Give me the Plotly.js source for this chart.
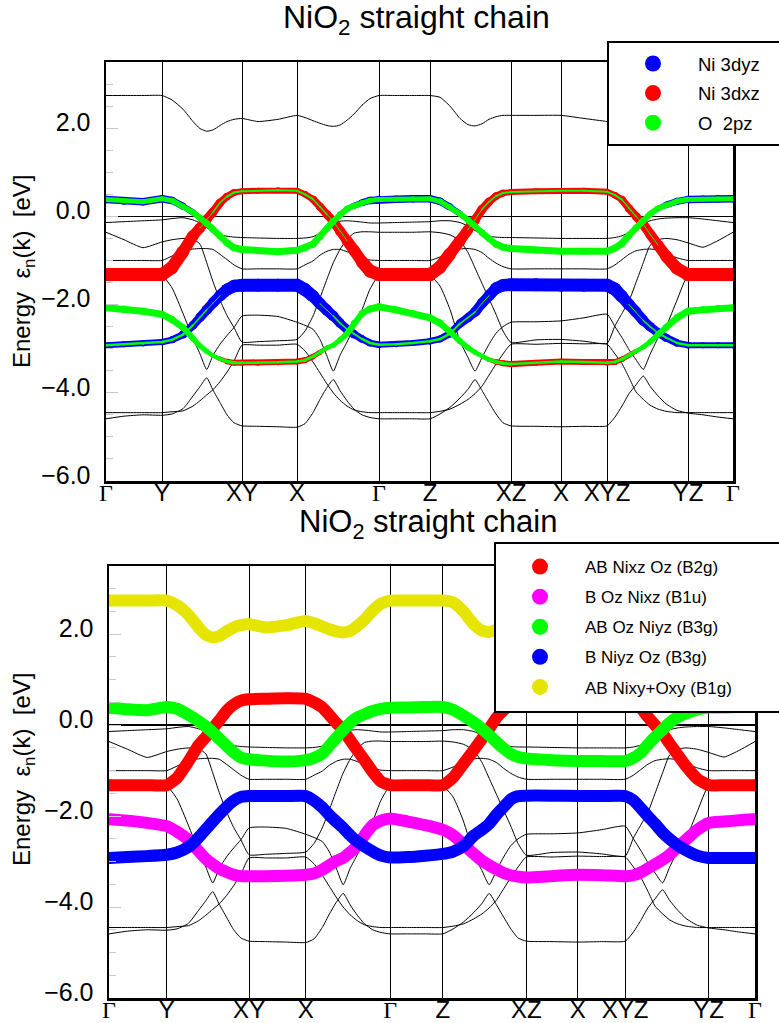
<!DOCTYPE html>
<html><head><meta charset="utf-8">
<script src="https://cdn.plot.ly/plotly-3.0.1.min.js"></script>
<style>html,body{margin:0;padding:0;background:#fff}#chart{width:779px;height:1023px}</style>
</head><body><div id="chart"></div>
<script>
// k-path distance of each sampled point (arbitrary units)
const kPath = [0, 0.18, 0.37, 0.56,
  0.66, 0.77, 0.87, 0.94, 1.007, 1.07, 1.14, 1.21, 1.28, 1.36,
  1.52, 1.72, 1.91,
  1.99, 2.07, 2.14, 2.21, 2.273, 2.34, 2.41, 2.48, 2.56, 2.64, 2.73,
  2.90, 3.07, 3.24,
  3.34, 3.44, 3.54, 3.62, 3.69, 3.76, 3.83, 3.90, 3.97, 4.05,
  4.30, 4.55,
  4.78, 5.01,
  5.09, 5.16, 5.23, 5.30, 5.373, 5.44, 5.52, 5.60, 5.71, 5.82,
  5.97, 6.12, 6.27];
const kTicks = [0, 0.56, 1.36, 1.91, 2.73, 3.24, 4.05, 4.55, 5.01, 5.82, 6.27];
const kLabels = ['Γ', 'Y', 'XY', 'X', 'Γ', 'Z', 'XZ', 'X', 'XYZ', 'YZ', 'Γ'];
const yTicks = [-6, -4, -2, 0, 2];

// band energies (eV)
const bandA = [2.74, 2.74, 2.74, 2.74,
  2.64, 2.43, 2.15, 1.99, 1.93, 1.96, 2.06, 2.15, 2.20, 2.22,
  2.15, 2.20, 2.29,
  2.24, 2.17, 2.11, 2.06, 2.04, 2.07, 2.18, 2.32, 2.52, 2.67, 2.74,
  2.74, 2.74, 2.74,
  2.70, 2.50, 2.22, 2.08, 2.05, 2.10, 2.20, 2.26, 2.29, 2.29,
  2.29, 2.29,
  2.22, 2.15,
  2.12, 2.08, 2.03, 1.98, 1.95, 2.00, 2.15, 2.40, 2.65, 2.74,
  2.74, 2.74, 2.74];
const bandP = [0.385, 0.35, 0.33, 0.40,
  0.36, 0.23, 0.09, -0.03, -0.16, -0.30, -0.45, -0.60, -0.71, -0.75,
  -0.78, -0.80, -0.77,
  -0.72, -0.63, -0.45, -0.27, -0.11, 0.05, 0.17, 0.24, 0.31, 0.36, 0.385,
  0.39, 0.40, 0.40,
  0.34, 0.21, 0.06, -0.08, -0.22, -0.37, -0.51, -0.63, -0.70, -0.73,
  -0.77, -0.79,
  -0.79, -0.79,
  -0.72, -0.61, -0.43, -0.26, -0.10, 0.05, 0.18, 0.26, 0.34, 0.385,
  0.39, 0.40, 0.40];
const bandQ = [-1.32, -1.32, -1.32, -1.32,
  -1.16, -0.80, -0.44, -0.26, -0.07, 0.10, 0.31, 0.45, 0.54, 0.57,
  0.58, 0.59, 0.58,
  0.50, 0.39, 0.22, 0.04, -0.11, -0.33, -0.55, -0.77, -1.03, -1.24, -1.32,
  -1.32, -1.32, -1.32,
  -1.15, -0.85, -0.55, -0.30, -0.08, 0.16, 0.33, 0.46, 0.53, 0.55,
  0.57, 0.58,
  0.58, 0.56,
  0.48, 0.38, 0.18, 0.00, -0.18, -0.40, -0.65, -0.90, -1.18, -1.32,
  -1.32, -1.32, -1.32];
const bandR = [-2.07, -2.10, -2.15, -2.22,
  -2.34, -2.52, -2.77, -2.94, -3.06, -3.16, -3.23, -3.29, -3.32, -3.32,
  -3.32, -3.31, -3.29,
  -3.26, -3.18, -3.08, -2.98, -2.92, -2.80, -2.66, -2.42, -2.20, -2.10, -2.05,
  -2.12, -2.20, -2.30,
  -2.42, -2.62, -2.83, -2.98, -3.08, -3.17, -3.25, -3.30, -3.33, -3.35,
  -3.32, -3.29,
  -3.30, -3.32,
  -3.30, -3.24, -3.15, -3.06, -2.96, -2.85, -2.68, -2.52, -2.30, -2.15,
  -2.12, -2.09, -2.07];
const bandS = [-2.92, -2.90, -2.88, -2.85,
  -2.80, -2.68, -2.47, -2.29, -2.12, -1.96, -1.80, -1.66, -1.58, -1.56,
  -1.56, -1.56, -1.56,
  -1.66, -1.81, -1.98, -2.13, -2.26, -2.42, -2.56, -2.67, -2.78, -2.87, -2.91,
  -2.90, -2.87, -2.83,
  -2.78, -2.66, -2.43, -2.30, -2.17, -1.97, -1.80, -1.63, -1.56, -1.55,
  -1.55, -1.56,
  -1.56, -1.56,
  -1.65, -1.82, -2.00, -2.17, -2.36, -2.50, -2.64, -2.75, -2.87, -2.92,
  -2.92, -2.92, -2.92];
const bandT1 = [-0.14, -0.12, -0.10, -0.08,
  -0.05, -0.03, -0.08, -0.15, -0.25, -0.37, -0.42, -0.45, -0.47, -0.48,
  -0.49, -0.50, -0.50,
  -0.49, -0.46, -0.38, -0.25, -0.14, -0.11, -0.10, -0.11, -0.13, -0.15, -0.15,
  -0.14, -0.13, -0.12,
  -0.10, -0.10, -0.14, -0.22, -0.32, -0.41, -0.45, -0.47, -0.48, -0.48,
  -0.49, -0.50,
  -0.50, -0.50,
  -0.48, -0.44, -0.37, -0.28, -0.18, -0.10, -0.06, -0.04, -0.03, -0.03,
  -0.06, -0.10, -0.14];
const bandT2 = [-0.36, -0.53, -0.71, -0.58,
  -0.53, -0.50, -0.52, -0.63, -1.05, -1.48, -1.90, -2.25, -2.52, -2.85,
  -2.84, -2.82, -2.79,
  -2.60, -2.26, -1.85, -1.42, -1.05, -0.75, -0.52, -0.38, -0.35, -0.35, -0.36,
  -0.36, -0.36, -0.35,
  -0.37, -0.42, -0.55, -0.82, -1.17, -1.52, -1.87, -2.22, -2.60, -2.86,
  -2.80, -2.79,
  -2.83, -2.88,
  -2.48, -2.20, -1.92, -1.50, -1.05, -0.66, -0.53, -0.50, -0.53, -0.60,
  -0.70, -0.55, -0.36];
const bandT3 = [-1.00, -1.00, -1.00, -1.00,
  -0.90, -0.78, -0.74, -0.73, -0.73, -0.75, -0.86, -0.98, -1.10, -1.19,
  -1.19, -1.19, -1.19,
  -1.10, -1.01, -0.88, -0.79, -0.75, -0.75, -0.80, -0.87, -0.95, -0.99, -1.00,
  -1.00, -1.00, -1.00,
  -0.92, -0.80, -0.74, -0.73, -0.75, -0.82, -0.95, -1.06, -1.14, -1.19,
  -1.19, -1.19,
  -1.19, -1.19,
  -1.10, -0.98, -0.86, -0.78, -0.75, -0.74, -0.76, -0.84, -0.94, -1.00,
  -1.00, -1.00, -1.00];
const bandT4 = [-4.45, -4.45, -4.45, -4.45,
  -4.43, -4.41, -4.30, -4.18, -4.05, -3.93, -3.75, -3.53, -3.28, -2.92,
  -2.92, -2.92, -2.90,
  -3.05, -3.30, -3.55, -3.80, -4.00, -4.17, -4.30, -4.39, -4.43, -4.45, -4.45,
  -4.45, -4.45, -4.45,
  -4.42, -4.37, -4.26, -4.15, -4.02, -3.85, -3.60, -3.35, -3.12, -2.90,
  -2.90, -2.88,
  -2.89, -2.90,
  -3.12, -3.34, -3.65, -3.98, -4.15, -4.28, -4.37, -4.42, -4.45, -4.45,
  -4.45, -4.45, -4.45];
const bandT5 = [-4.59, -4.53, -4.50, -4.51,
  -4.48, -4.36, -4.07, -3.86, -3.66, -3.94, -4.22, -4.50, -4.68, -4.75,
  -4.76, -4.77, -4.78,
  -4.70, -4.45, -4.15, -3.88, -3.70, -3.95, -4.18, -4.37, -4.50, -4.56, -4.59,
  -4.59, -4.59, -4.59,
  -4.48, -4.33, -4.12, -3.92, -3.70, -3.95, -4.22, -4.48, -4.68, -4.75,
  -4.76, -4.77,
  -4.76, -4.75,
  -4.55, -4.30, -4.02, -3.82, -3.62, -3.85, -4.07, -4.25, -4.40, -4.46,
  -4.50, -4.55, -4.59];
const bandT6 = [-1.34, -1.34, -1.34, -1.34,
  -1.62, -2.20, -2.77, -3.12, -3.47, -3.15, -2.90, -2.70, -2.52, -2.26,
  -2.24, -2.27, -2.40,
  -2.47, -2.56, -2.79, -3.17, -3.51, -3.15, -2.85, -2.52, -2.12, -1.65, -1.34,
  -1.34, -1.34, -1.34,
  -1.58, -2.11, -2.83, -3.20, -3.51, -3.20, -2.90, -2.65, -2.50, -2.40,
  -2.39, -2.37,
  -2.30, -2.22,
  -2.50, -2.75, -3.02, -3.25, -3.47, -3.13, -2.76, -2.50, -1.90, -1.34,
  -1.34, -1.34, -1.34];

// how Gamma-like (1) or X-like (0) the orbital mixing is at each k point
const gammaChar = [1, 1, 1, 1,
  .95, .85, .7, .6, .5, .4, .3, .2, .1, 0,
  0, 0, 0,
  .05, .15, .25, .35, .45, .55, .65, .75, .85, .95, 1,
  1, 1, 1,
  .95, .85, .72, .62, .52, .42, .32, .2, .1, 0,
  0, 0,
  0, 0,
  .05, .15, .25, .35, .45, .55, .67, .78, .9, 1,
  1, 1, 1];
// orbital weights [Gamma side, X side]
const P_Ni3dyz = [0.58, 0.0],  P_O2pz = [0.40, 0.55];
const Q_Ni3dxz = [1.0, 0.45],  Q_O2pz = [0.0, 0.16];
const R_Ni3dxz = [0.0, 0.48],  R_O2pz = [0.55, 0.20];
const S_Ni3dyz = [0.48, 1.0],  S_O2pz = [0.20, 0.0];

const NB = '\u00a0';
const topLegend = ['Ni 3dyz', 'Ni 3dxz', 'O' + NB + ' 2pz'];
const botLegend = ['AB Nixz Oz (B2g)', 'B Oz Nixz (B1u)', 'AB Oz Niyz (B3g)', 'B Niyz Oz (B3g)', 'AB Nixy+Oxy (B1g)'];

const BLUE = '#0000ff', RED = '#ff0000', GREEN = '#00ff00', MAG = '#ff00ff', YEL = '#e5e500';
const allBands = [bandA, bandP, bandQ, bandR, bandS, bandT1, bandT2, bandT3, bandT4, bandT5, bandT6];
const traces = [];

function thin(band, xa, ya) {
  traces.push({x: kPath, y: band, xaxis: xa, yaxis: ya, mode: 'lines',
    line: {color: '#000', width: 1, shape: 'spline', smoothing: 0.5},
    showlegend: false, hoverinfo: 'skip'});
}
function fat(band, w, color, xa, ya) {
  const SCALE = 13;
  const wid = kPath.map((_, i) => SCALE * (w[1] + (w[0] - w[1]) * gammaChar[i]));
  const segW = i => Math.round((wid[i] + wid[i + 1])) / 2;
  let i = 0;
  while (i < kPath.length - 1) {
    const sw = segW(i);
    let j = i + 1;
    while (j < kPath.length - 1 && segW(j) === sw) j++;
    if (sw >= 1) {
      traces.push({x: kPath.slice(i, j + 1), y: band.slice(i, j + 1), xaxis: xa, yaxis: ya,
        mode: 'lines+markers', line: {color: color, width: sw},
        marker: {color: color, size: sw, line: {width: 0}},
        showlegend: false, hoverinfo: 'skip'});
    }
    i = j;
  }
}
function fatConst(band, color, width, xa, ya) {
  const sizes = kPath.map((_, i) => (i === 0 || i === kPath.length - 1) ? width : 0);
  traces.push({x: kPath, y: band, xaxis: xa, yaxis: ya, mode: 'lines+markers',
    line: {color: color, width: width, shape: 'spline', smoothing: 0.5},
    marker: {color: color, size: sizes, line: {width: 0}},
    showlegend: false, hoverinfo: 'skip'});
}
function legendEntry(name, color, legend) {
  traces.push({x: [null], y: [null], mode: 'markers', name: name, legend: legend,
    legendgroup: legend + name, marker: {color: color, size: 16}, hoverinfo: 'skip'});
}

// ---- top panel
allBands.forEach(b => thin(b, 'x', 'y'));
fat(bandP, P_Ni3dyz, BLUE, 'x', 'y');
fat(bandS, S_Ni3dyz, BLUE, 'x', 'y');
fat(bandQ, Q_Ni3dxz, RED, 'x', 'y');
fat(bandR, R_Ni3dxz, RED, 'x', 'y');
fat(bandP, P_O2pz, GREEN, 'x', 'y');
fat(bandQ, Q_O2pz, GREEN, 'x', 'y');
fat(bandR, R_O2pz, GREEN, 'x', 'y');
fat(bandS, S_O2pz, GREEN, 'x', 'y');
[BLUE, RED, GREEN].forEach((c, i) => legendEntry(topLegend[i], c, 'legend'));

// ---- bottom panel
allBands.forEach(b => thin(b, 'x2', 'y2'));
fatConst(bandQ, RED, 12, 'x2', 'y2');
fatConst(bandR, MAG, 12, 'x2', 'y2');
fatConst(bandP, GREEN, 12, 'x2', 'y2');
fatConst(bandS, BLUE, 12, 'x2', 'y2');
fatConst(bandA, YEL, 12, 'x2', 'y2');
[RED, MAG, GREEN, BLUE, YEL].forEach((c, i) => legendEntry(botLegend[i], c, 'legend2'));

const W = 779, H = 1023;
const tickText = kLabels.map(l => l === 'Γ' ? '<span style="font-family:Liberation Serif">Γ</span>' : l);
function xAxis(dom, anchor) {
  return {domain: dom, anchor: anchor, range: [0, 6.27], tickvals: kTicks, ticktext: tickText,
    ticks: '', showgrid: true, gridcolor: '#000', gridwidth: 1, zeroline: false,
    showline: true, linecolor: '#000', linewidth: 2.5, mirror: true,
    tickfont: {size: 24, color: '#000'}, ticklabelstandoff: -11, fixedrange: true};
}
function yAxis(dom, anchor) {
  return {domain: dom, anchor: anchor, range: [-6, 3.5], tickvals: yTicks, tickformat: '.1f',
    ticks: 'inside', ticklen: 12, tickwidth: 1, tickcolor: '#c8c8c8',
    minor: {dtick: 0.5, tick0: 0, ticks: 'inside', ticklen: 7, tickwidth: 1, tickcolor: '#c8c8c8', showgrid: false},
    showgrid: false, zeroline: true, zerolinecolor: '#000', zerolinewidth: 1.5,
    showline: true, linecolor: '#000', linewidth: 2.5, mirror: true,
    tickfont: {size: 25, color: '#000'}, ticklabelshift: -6, ticklabelstandoff: 8, fixedrange: true};
}
const legendBase = {xanchor: 'left', yanchor: 'top', bgcolor: 'rgba(0,0,0,0)', borderwidth: 0,
  itemwidth: 80, traceorder: 'grouped'};
// legend frames run off the right edge of the page, as in the original
function legendFrame(x0, y0, y1) {
  return {type: 'rect', xref: 'paper', yref: 'paper', x0: x0 / W, x1: 1.05, y0: 1 - y1 / H, y1: 1 - y0 / H,
    fillcolor: '#fff', line: {color: '#000', width: 2}, layer: 'above'};
}

const layout = {
  width: W, height: H, margin: {l: 0, r: 0, t: 0, b: 0},
  paper_bgcolor: '#fff', plot_bgcolor: '#fff',
  font: {family: 'Liberation Sans, Arial, sans-serif', color: '#000'},
  showlegend: true,
  xaxis: xAxis([106 / W, 733 / W], 'y'),
  yaxis: yAxis([1 - 481 / H, 1 - 62 / H], 'x'),
  xaxis2: xAxis([109 / W, 755 / W], 'y2'),
  yaxis2: yAxis([1 - 998 / H, 1 - 566 / H], 'x2'),
  legend: Object.assign({x: 608 / W, y: 1 - 45 / H, font: {size: 18.5, color: '#000'}, tracegroupgap: 2.5}, legendBase),
  legend2: Object.assign({x: 495 / W, y: 1 - 549 / H, font: {size: 17, color: '#000'}, tracegroupgap: 5}, legendBase),
  shapes: [legendFrame(608, 42, 145), legendFrame(495, 543, 712)],
  annotations: [
    {text: 'NiO<sub>2</sub> straight chain', x: 416 / W, y: 1 - 20 / H, xref: 'paper', yref: 'paper',
     showarrow: false, xanchor: 'center', yanchor: 'middle', font: {size: 32}},
    {text: 'NiO<sub>2</sub> straight chain', x: 428 / W, y: 1 - 524 / H, xref: 'paper', yref: 'paper',
     showarrow: false, xanchor: 'center', yanchor: 'middle', font: {size: 31}},
    {text: 'Energy' + NB + NB + 'ε<sub>n</sub>(k)' + NB + NB + '[eV]', x: 23 / W, y: 1 - 272 / H, xref: 'paper', yref: 'paper',
     showarrow: false, xanchor: 'center', yanchor: 'middle', textangle: -90, font: {size: 24}},
    {text: 'Energy' + NB + NB + 'ε<sub>n</sub>(k)' + NB + NB + '[eV]', x: 23 / W, y: 1 - 770 / H, xref: 'paper', yref: 'paper',
     showarrow: false, xanchor: 'center', yanchor: 'middle', textangle: -90, font: {size: 24}}
  ]
};
Plotly.newPlot('chart', traces, layout, {staticPlot: true, displayModeBar: false});
</script></body></html>
